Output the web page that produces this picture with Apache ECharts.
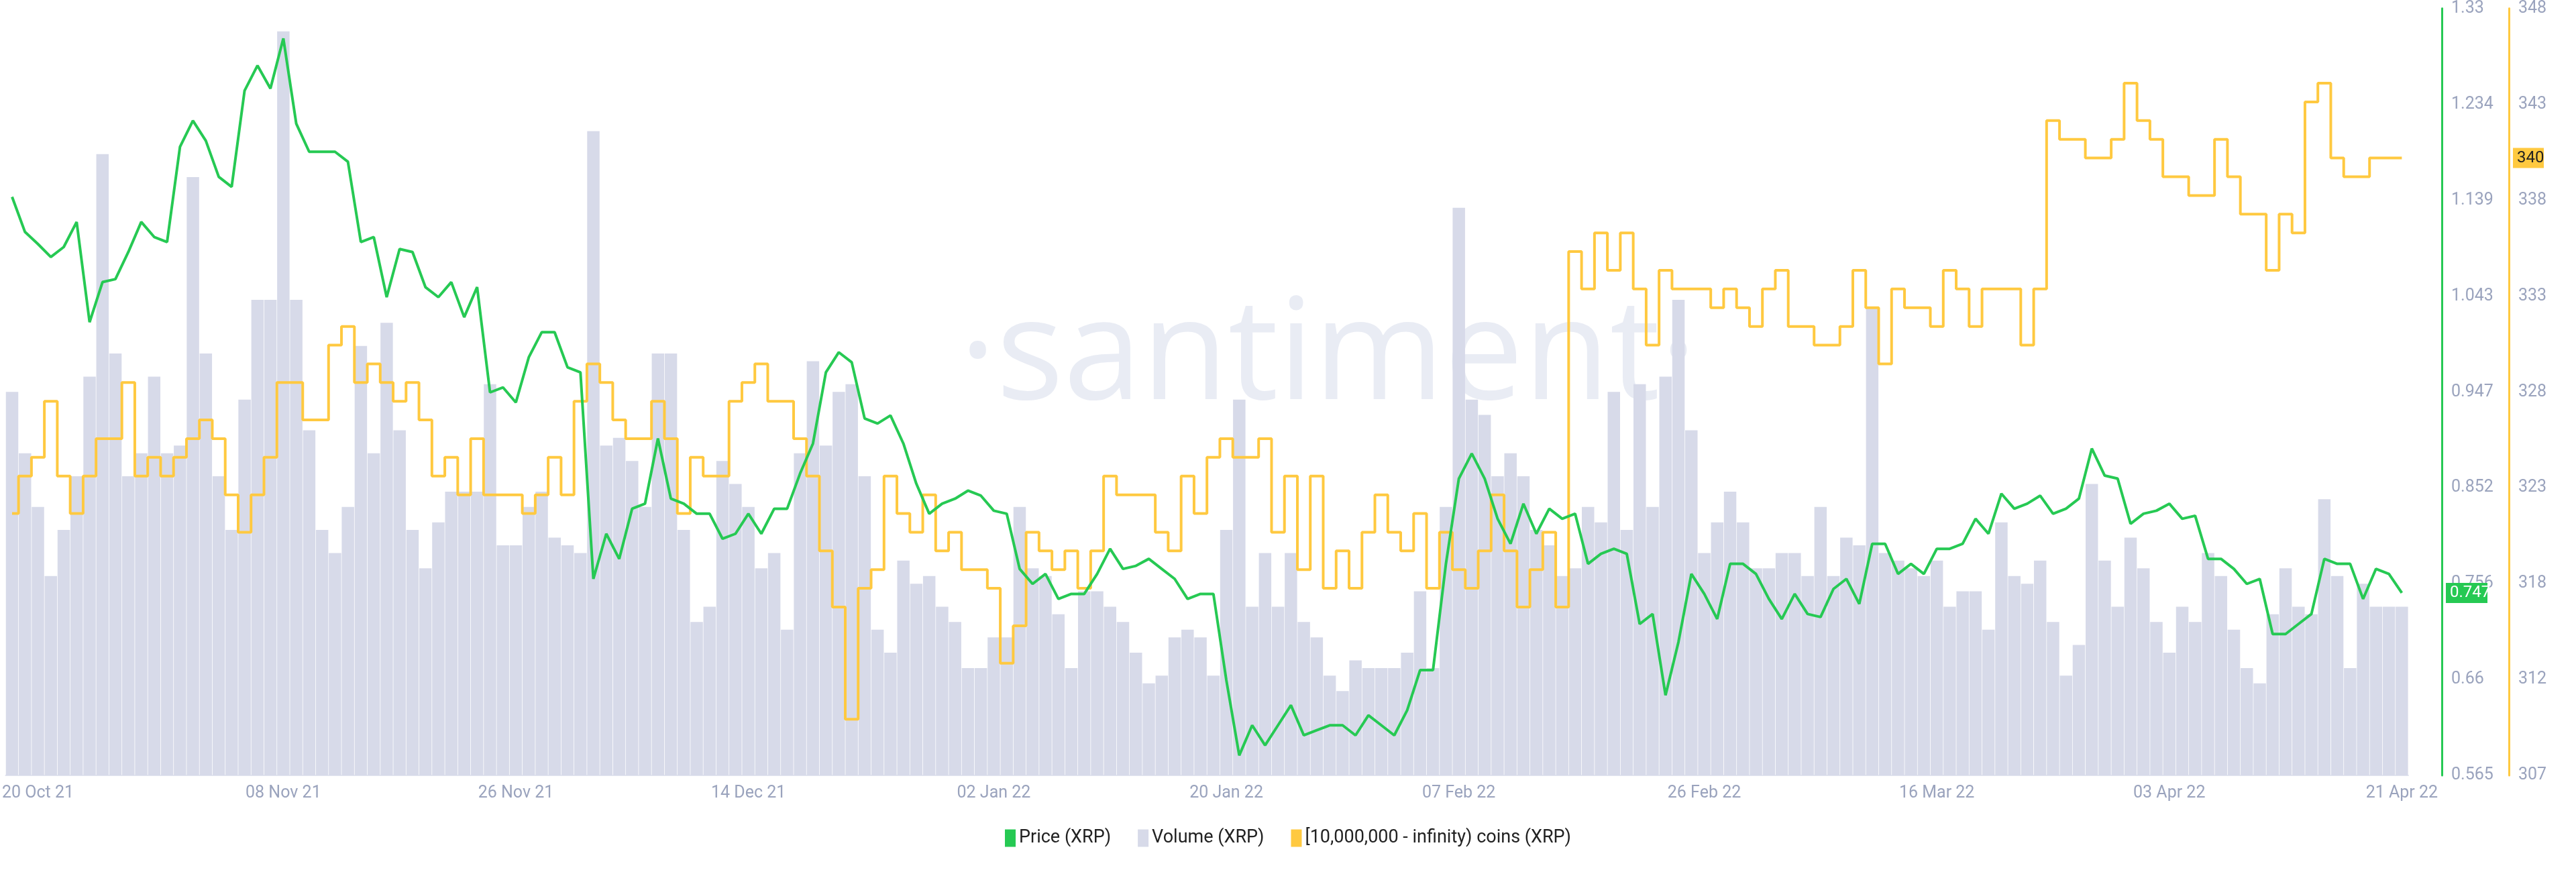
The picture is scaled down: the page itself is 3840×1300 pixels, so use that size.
<!DOCTYPE html>
<html><head><meta charset="utf-8">
<script src="https://cdn.jsdelivr.net/npm/echarts@6/dist/echarts.min.js"></script>
<style>html,body{margin:0;padding:0;background:#fff}#c{width:3840px;height:1300px}</style>
</head><body><div id="c"></div>
<script>
// daily categories from 18 Oct 2021 to 21 Apr 2022
const startDate = [2021, 9, 18];
const dayCount = 186;
const tickLabels = ['20 Oct 21','08 Nov 21','26 Nov 21','14 Dec 21','02 Jan 22','20 Jan 22','07 Feb 22','26 Feb 22','16 Mar 22','03 Apr 22','21 Apr 22'];
const priceTicks = ['0.565','0.66','0.756','0.852','0.947','1.043','1.139','1.234','1.33'];
const coinTicks = ['307','312','318','323','328','333','338','343','348'];

const price = [1.142,1.107,1.095,1.082,1.092,1.117,1.017,1.057,1.060,1.087,1.117,1.102,1.097,1.192,1.218,1.198,1.162,1.152,1.248,1.273,1.25,1.30,1.215,1.187,1.187,1.187,1.177,1.097,1.102,1.042,
1.090,1.087,1.052,1.042,1.057,1.022,1.052,0.947,0.952,0.937,0.982,1.007,1.007,0.972,0.967,0.761,0.806,0.781,0.831,0.836,0.901,0.841,0.836,0.826,0.826,0.801,0.806,0.826,0.806,0.831,
0.831,0.866,0.896,0.967,0.987,0.977,0.921,0.916,0.924,0.896,0.856,0.826,0.836,0.841,0.849,0.844,0.829,0.826,0.771,0.756,0.766,0.741,0.746,0.746,0.766,0.791,0.771,0.774,0.781,0.771,
0.761,0.741,0.746,0.746,0.660,0.585,0.615,0.595,0.615,0.635,0.605,0.610,0.615,0.615,0.605,0.625,0.615,0.605,0.630,0.670,0.670,0.776,0.861,0.886,0.861,0.821,0.796,0.836,0.806,0.831,
0.821,0.826,0.776,0.786,0.791,0.786,0.716,0.726,0.645,0.698,0.766,0.746,0.721,0.776,0.776,0.766,0.741,0.721,0.746,0.726,0.723,0.751,0.761,0.736,0.796,0.796,0.766,0.776,0.766,0.791,
0.791,0.796,0.821,0.806,0.846,0.831,0.836,0.844,0.826,0.831,0.841,0.891,0.864,0.861,0.816,0.826,0.829,0.836,0.821,0.824,0.781,0.781,0.771,0.756,0.761,0.706,0.706,0.716,0.726,0.781,
0.776,0.776,0.741,0.771,0.766,0.747];

const volume = [50,42,35,26,32,39,52,81,55,39,42,52,42,43,78,55,39,32,49,62,62,97,62,45,32,29,35,56,42,59,
45,32,27,33,37,37,37,51,30,30,35,37,31,30,29,84,43,44,41,35,55,55,32,20,22,41,38,35,27,29,
19,42,54,43,50,51,39,19,16,28,25,26,22,20,14,14,18,18,35,27,26,21,14,24,24,22,20,16,12,13,
18,19,18,13,32,49,22,29,22,29,20,18,13,11,15,14,14,14,16,24,14,35,74,49,47,39,42,39,32,30,
26,27,35,33,50,32,51,35,52,62,45,29,33,37,33,27,27,29,29,26,35,26,31,30,61,29,28,27,26,28,
22,24,24,19,33,26,25,28,20,13,17,38,28,22,31,27,20,16,22,20,29,26,19,14,12,21,27,22,21,36,
26,14,25,22,22,22];

const coins = [321,323,324,327,323,321,323,325,325,328,323,324,323,324,325,326,325,322,320,322,324,328,328,326,326,330,331,328,329,328,
327,328,326,323,324,322,325,322,322,322,321,322,324,322,327,329,328,326,325,325,327,325,321,324,323,323,327,328,329,327,
327,325,323,319,316,310,317,318,323,321,320,322,319,320,318,318,317,313,315,320,319,318,319,317,319,323,322,322,322,320,
319,323,321,324,325,324,324,325,320,323,318,323,317,319,317,320,322,320,319,321,317,320,318,317,319,322,319,316,318,320,
316,335,333,336,334,336,333,330,334,333,333,333,332,333,332,331,333,334,331,331,330,330,331,334,332,329,333,332,332,331,
334,333,331,333,333,333,330,333,342,341,341,340,340,341,344,342,341,339,339,338,338,341,339,337,337,334,337,336,343,344,
340,339,339,340,340,340];

const MON = ['Jan','Feb','Mar','Apr','May','Jun','Jul','Aug','Sep','Oct','Nov','Dec'];
const cats = [];
for (let i = 0; i < dayCount; i++) {
  const d = new Date(Date.UTC(startDate[0], startDate[1], startDate[2] + i));
  cats.push(String(d.getUTCDate()).padStart(2,'0') + ' ' + MON[d.getUTCMonth()] + ' ' + String(d.getUTCFullYear()).slice(2));
}

const pMin = 0.565, pMax = 1.33, cMin = 307, cMax = 348;
const lab = {color:'#9aa3bd', fontSize:25, fontFamily:'Roboto'};
const wm = {type:'text', left:1430, top:430, z:0, silent:true,
    style:{text:'·santiment·', fontSize:210, fontFamily:'Open Sans', fill:'#e9ecf4'}};
const chart = echarts.init(document.getElementById('c'));
chart.setOption({
  animation:false,
  backgroundColor:'#fff',
  graphic:[wm],
  grid:{left:0, right:250, top:12, bottom:144},
  legend:{bottom:32, left:'center', itemWidth:16, itemHeight:26, itemGap:40, icon:'rect',
    textStyle:{fontSize:27, color:'#222', fontFamily:'Roboto'},
    data:['Price (XRP)','Volume (XRP)','[10,000,000 - infinity) coins (XRP)']},
  xAxis:{type:'category', data:cats, boundaryGap:true,
    axisLine:{lineStyle:{color:'#e3e6ef', width:2}}, axisTick:{show:false},
    axisLabel:Object.assign({}, lab, {margin:14, interval:(i,v)=>tickLabels.includes(v), formatter:v=>v})},
  yAxis:[
    {type:'value', position:'right', offset:50, min:pMin, max:pMax, interval:(pMax-pMin)/8,
     axisLine:{show:true, lineStyle:{color:'#26c953', width:3}}, axisTick:{show:false}, splitLine:{show:false},
     axisLabel:Object.assign({}, lab, {margin:14, formatter:v=>priceTicks[Math.round((v-pMin)/((pMax-pMin)/8))]})},
    {type:'value', min:0, max:100, show:false, splitLine:{show:false}},
    {type:'value', position:'right', offset:150, min:cMin, max:cMax, interval:(cMax-cMin)/8,
     axisLine:{show:true, lineStyle:{color:'#ffc940', width:3}}, axisTick:{show:false}, splitLine:{show:false},
     axisLabel:Object.assign({}, lab, {margin:14, formatter:v=>coinTicks[Math.round((v-cMin)/((cMax-cMin)/8))]})}
  ],
  series:[
    {name:'Volume (XRP)', type:'bar', yAxisIndex:1, data:volume, barCategoryGap:'4%',
     itemStyle:{color:'#d7dae9'}, z:1},
    {name:'[10,000,000 - infinity) coins (XRP)', type:'line', yAxisIndex:2, data:coins, step:'middle',
     symbol:'none', lineStyle:{color:'#ffc940', width:4}, itemStyle:{color:'#ffc940'}, z:3},
    {name:'Price (XRP)', type:'line', yAxisIndex:0, data:price, symbol:'none',
     lineStyle:{color:'#26c953', width:4}, itemStyle:{color:'#26c953'}, z:4}
  ]
});
const pY = chart.convertToPixel({yAxisIndex:0}, price[price.length-1]);
const cY = chart.convertToPixel({yAxisIndex:2}, coins[coins.length-1]);
chart.setOption({graphic:[wm,
  {type:'rect', shape:{x:3646, y:pY-15, width:62, height:30}, style:{fill:'#26c953'}, z:10},
  {type:'text', x:3652, y:pY, style:{text:price[price.length-1].toFixed(3), fill:'#fff', fontSize:24, fontFamily:'Roboto', verticalAlign:'middle'}, z:11},
  {type:'rect', shape:{x:3746, y:cY-15, width:46, height:30}, style:{fill:'#ffc940'}, z:10},
  {type:'text', x:3752, y:cY, style:{text:String(coins[coins.length-1]), fill:'#222', fontSize:24, fontFamily:'Roboto', verticalAlign:'middle'}, z:11}
]});
</script></body></html>
